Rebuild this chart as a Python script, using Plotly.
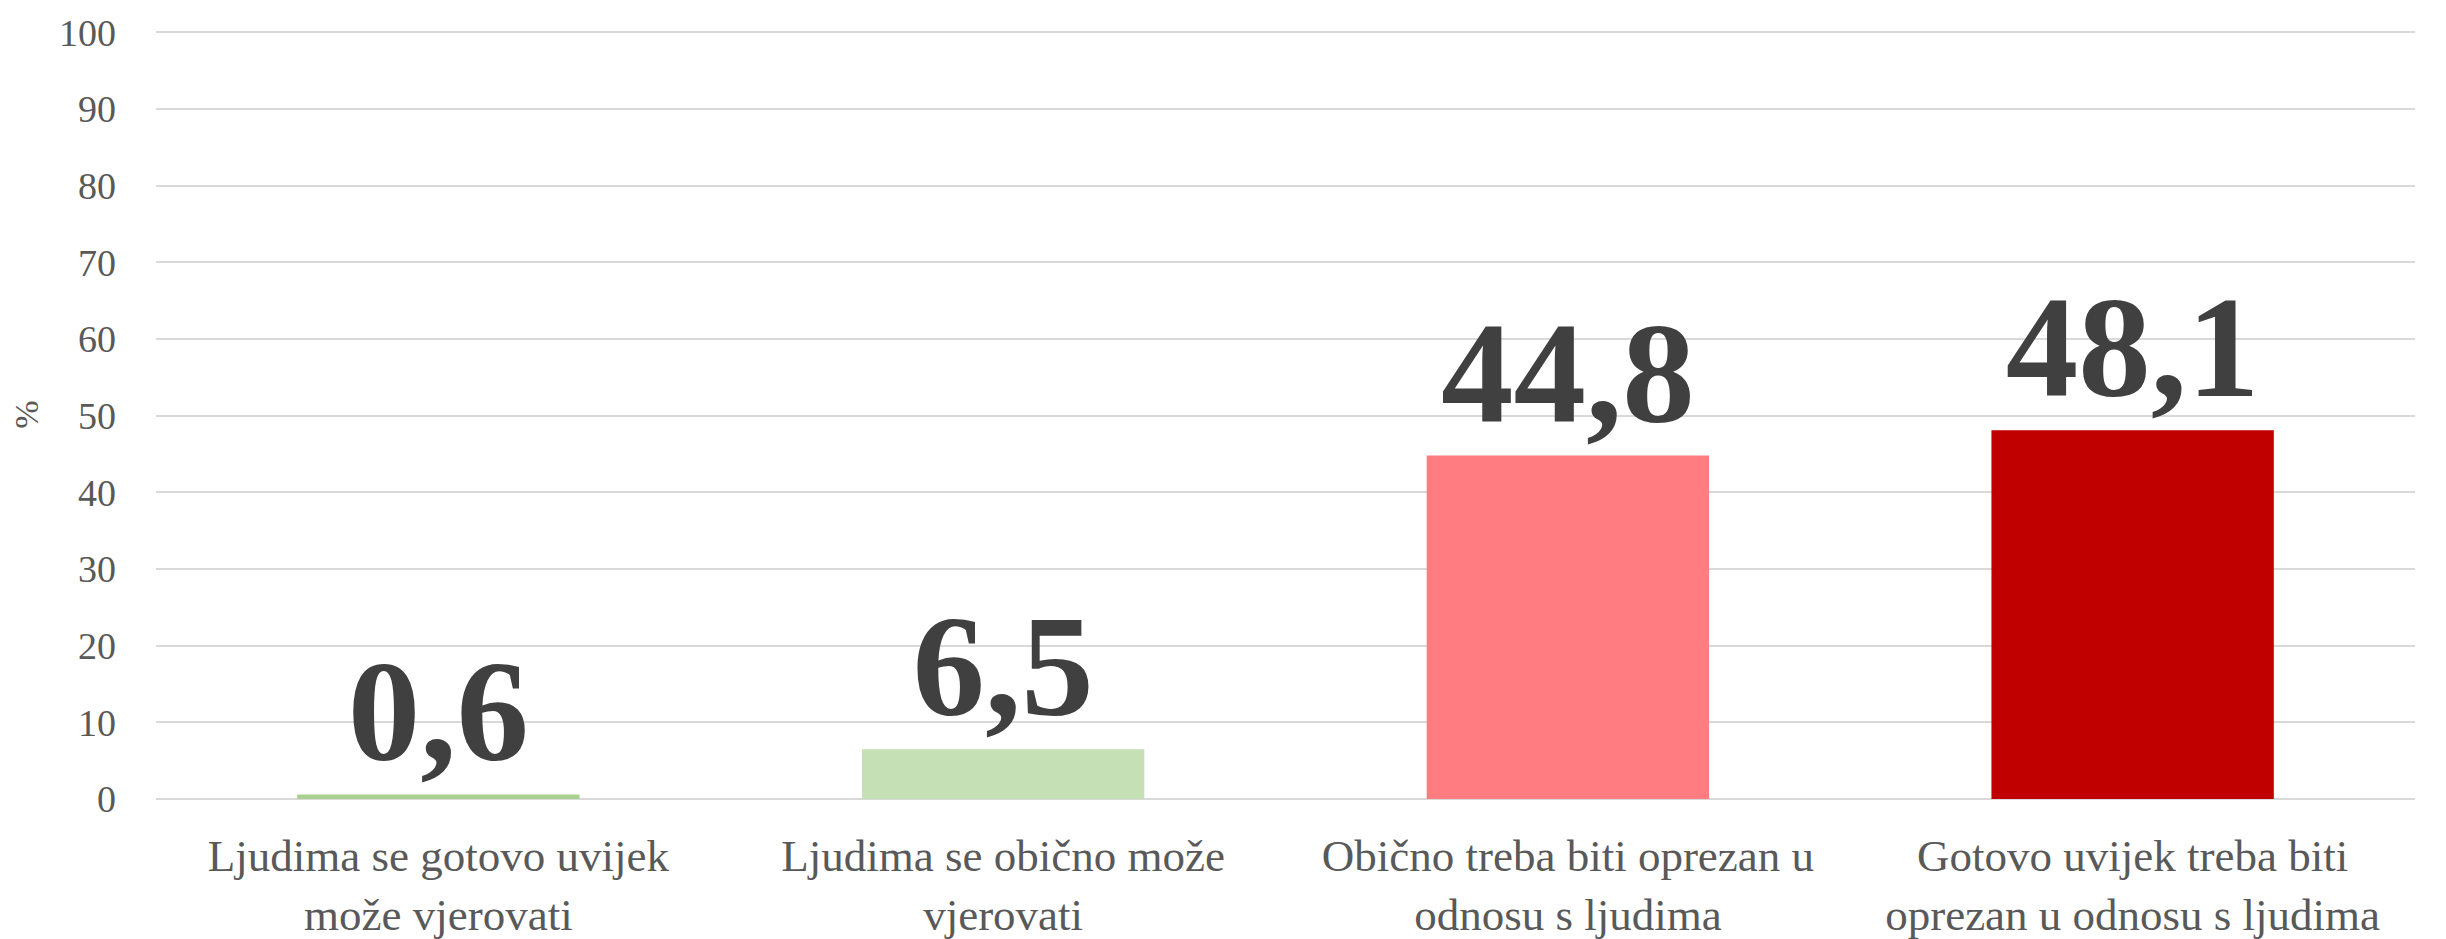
import plotly.graph_objects as go

categories = [
    "Ljudima se gotovo uvijek<br>može vjerovati",
    "Ljudima se obično može<br>vjerovati",
    "Obično treba biti oprezan u<br>odnosu s ljudima",
    "Gotovo uvijek treba biti<br>oprezan u odnosu s ljudima",
]
values = [0.6, 6.5, 44.8, 48.1]
value_labels = ["0,6", "6,5", "44,8", "48,1"]
bar_colors = ["#A9D18E", "#C5E0B4", "#FF7C80", "#C00000"]
y_ticks = [0, 10, 20, 30, 40, 50, 60, 70, 80, 90, 100]

fig = go.Figure()
fig.add_trace(go.Bar(
    x=categories,
    y=values,
    marker=dict(color=bar_colors, line=dict(width=0)),
    text=value_labels,
    textposition="outside",
    textfont=dict(family="Liberation Serif", size=145, color="#404040", weight="bold"),
    cliponaxis=False,
    constraintext="none",
    hoverinfo="skip",
))

fig.update_layout(
    width=2446,
    height=939,
    margin=dict(l=148, r=39, t=22, b=148),
    paper_bgcolor="white",
    plot_bgcolor="white",
    bargap=0.5,
    showlegend=False,
    font=dict(family="Liberation Serif", color="#595959"),
)
fig.update_yaxes(
    range=[0, 100.3],
    tickvals=y_ticks,
    ticktext=[str(v) for v in y_ticks],
    tickfont=dict(family="Liberation Serif", size=38, color="#595959"),
    showgrid=True,
    gridcolor="#D9D9D9",
    gridwidth=2,
    zeroline=True,
    zerolinecolor="#D9D9D9",
    zerolinewidth=2,
    showline=False,
    ticks="",
    ticklabelstandoff=39,
    ticklabeloverflow="allow",
    automargin=False,
    title=dict(text="%", font=dict(family="Liberation Serif", size=34, color="#595959"), standoff=40),
)
fig.update_xaxes(
    tickfont=dict(family="Liberation Serif", size=45, color="#595959"),
    showline=False,
    ticks="",
    showgrid=False,
    automargin=False,
    ticklabeloverflow="allow",
    ticklabelstandoff=26,
)

fig.write_html("out.html")
